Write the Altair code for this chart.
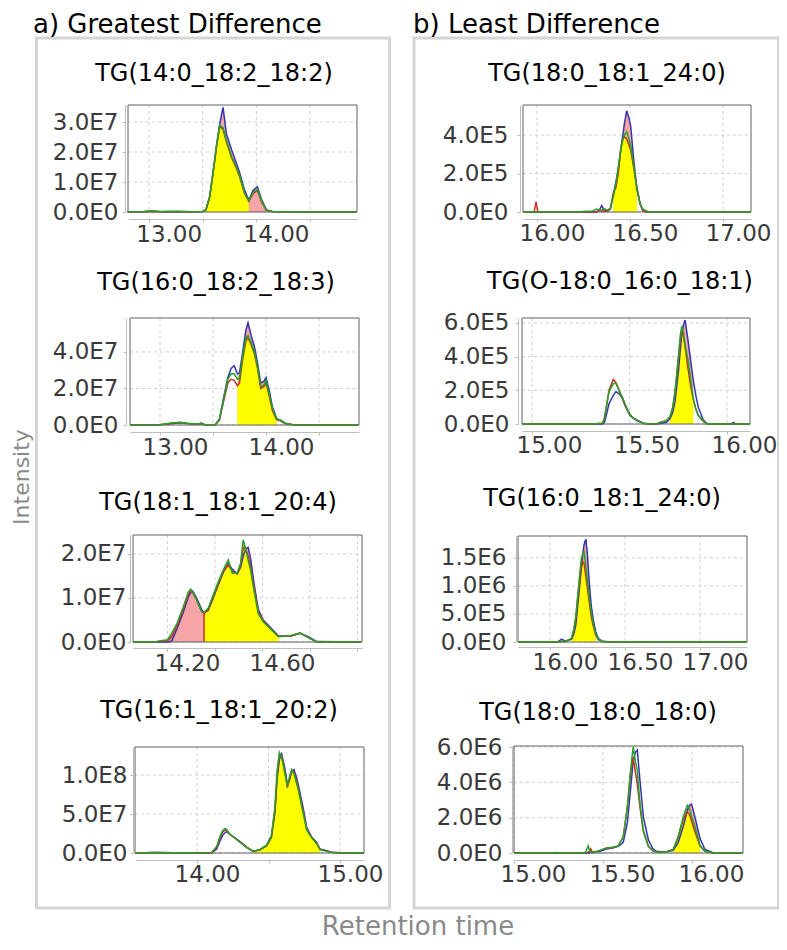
import altair as alt
import pandas as pd

# ---------------- data ----------------
# a) Greatest Difference
A1_T = [12.30, 12.45, 12.53, 12.60, 12.75, 12.90, 13.00, 13.03, 13.065, 13.096, 13.128, 13.159, 13.19, 13.22,
        13.27, 13.315, 13.346, 13.39, 13.43, 13.47, 13.51, 13.55, 13.595, 13.65, 13.75, 13.90, 14.43]
A1_BLUE = [0, 0.01, 0.03, 0.01, 0.02, 0.01, 0.02, 0.07, 0.5, 1.3, 2.2, 2.95, 3.49, 2.62, 2.07, 1.62, 1.29, 0.73,
           0.4, 0.73, 0.84, 0.4, 0.07, 0.02, 0.01, 0, 0]
A1_RED = [0, 0.01, 0.02, 0.01, 0.02, 0.01, 0.02, 0.07, 0.5, 1.28, 2.15, 2.85, 2.75, 2.35, 1.8, 1.45, 1.15, 0.62,
          0.35, 0.62, 0.72, 0.33, 0.05, 0.02, 0.01, 0, 0]
A1_GREEN = [0, 0.02, 0.04, 0.02, 0.02, 0.01, 0.02, 0.08, 0.52, 1.3, 2.18, 2.9, 2.8, 2.4, 1.84, 1.5, 1.2, 0.65,
            0.38, 0.66, 0.76, 0.35, 0.06, 0.02, 0.01, 0, 0]

A2_T = [12.22, 12.50, 12.62, 12.69, 12.76, 12.86, 12.89, 12.92, 13.02, 13.06, 13.10, 13.14, 13.17, 13.20, 13.23,
        13.25, 13.28, 13.31, 13.33, 13.36, 13.39, 13.42, 13.45, 13.48, 13.50, 13.53, 13.56, 13.60, 13.64, 13.68,
        13.75, 14.00, 14.37]
A2_BLUE = [0, 0.01, 0.08, 0.12, 0.08, 0.04, 0.1, 0.02, 0.02, 0.3, 1.5, 2.6, 3.1, 3.25, 2.8, 2.85, 4.0, 5.2, 5.6,
           4.9, 4.3, 3.4, 2.3, 2.4, 2.6, 1.9, 1.0, 0.35, 0.25, 0.1, 0.02, 0, 0]
A2_RED = [0, 0.01, 0.1, 0.14, 0.08, 0.05, 0.08, 0.02, 0.02, 0.25, 1.3, 2.3, 2.5, 2.45, 2.15, 2.3, 3.6, 4.6, 4.8,
          4.4, 3.9, 3.1, 2.0, 2.1, 2.3, 1.6, 0.8, 0.3, 0.22, 0.08, 0.02, 0, 0]
A2_GREEN = [0, 0.02, 0.12, 0.15, 0.1, 0.06, 0.09, 0.03, 0.02, 0.3, 1.4, 2.5, 2.8, 2.8, 2.5, 2.55, 3.8, 4.8, 4.9,
            4.5, 4.0, 3.2, 2.1, 2.2, 2.45, 1.7, 0.9, 0.35, 0.25, 0.1, 0.02, 0, 0]

A3_T = [13.855, 13.95, 13.96, 14.0, 14.018, 14.04, 14.067, 14.088, 14.098, 14.106, 14.123, 14.144, 14.154, 14.172,
        14.193, 14.214, 14.235, 14.256, 14.273, 14.294, 14.308, 14.319, 14.33, 14.34, 14.35, 14.364, 14.382,
        14.403, 14.432, 14.467, 14.516, 14.558, 14.593, 14.628, 14.815]
A3_BLUE = [0, 0, 0, 0, 0.02, 0.3, 0.68, 1.02, 1.12, 1.16, 1.0, 0.74, 0.66, 0.72, 1.0, 1.3, 1.58, 1.78, 1.65, 1.55,
           1.7, 1.95, 2.12, 2.15, 1.9, 1.35, 0.75, 0.5, 0.34, 0.14, 0.13, 0.2, 0.12, 0.01, 0]
A3_RED = [0, 0, 0.01, 0.03, 0.12, 0.36, 0.75, 1.08, 1.15, 1.12, 0.96, 0.7, 0.65, 0.74, 1.03, 1.33, 1.6, 1.75, 1.6,
          1.55, 1.75, 2.15, 2.1, 1.95, 1.7, 1.25, 0.7, 0.48, 0.32, 0.13, 0.13, 0.2, 0.1, 0, 0]
A3_GREEN = [0, 0, 0.02, 0.05, 0.2, 0.42, 0.8, 1.14, 1.2, 1.15, 0.95, 0.69, 0.67, 0.77, 1.07, 1.37, 1.64, 1.86,
            1.56, 1.57, 1.79, 2.32, 2.1, 1.85, 1.64, 1.18, 0.65, 0.46, 0.31, 0.12, 0.14, 0.21, 0.1, 0, 0]

A4_T = [13.566, 13.70, 13.85, 14.00, 14.10, 14.138, 14.16, 14.18, 14.196, 14.207, 14.23, 14.254, 14.30, 14.347,
        14.394, 14.44, 14.487, 14.52, 14.545, 14.56, 14.576, 14.592, 14.615, 14.632, 14.647, 14.662, 14.678,
        14.695, 14.71, 14.74, 14.767, 14.80, 14.837, 14.86, 14.895, 14.94, 15.0, 15.168]
A4_BLUE = [0, 0.05, 0.03, 0, 0, 0.5, 1.5, 2.3, 2.6, 2.73, 2.4, 2.1, 1.47, 0.76, 0.2, 0.42, 0.92, 2.0, 5.2, 9.5,
           12.0, 12.7, 10.8, 8.8, 9.4, 10.4, 10.7, 9.8, 8.6, 6.0, 3.3, 2.1, 1.35, 0.5, 0.35, 0.1, 0.02, 0]
A4_RED = [0, 0.04, 0.02, 0, 0.01, 0.7, 1.9, 2.7, 2.95, 2.85, 2.4, 2.05, 1.45, 0.72, 0.2, 0.43, 0.95, 2.1, 5.5,
          10.0, 12.5, 12.4, 10.3, 8.4, 9.5, 10.5, 10.4, 9.3, 8.2, 5.5, 3.1, 2.05, 1.25, 0.45, 0.32, 0.09, 0.01, 0]
A4_GREEN = [0, 0.05, 0.03, 0, 0.02, 0.84, 2.1, 2.9, 3.16, 3.0, 2.4, 2.05, 1.4, 0.7, 0.2, 0.45, 1.0, 2.2, 5.9,
            10.5, 12.9, 12.3, 10.2, 8.6, 9.8, 10.7, 10.2, 9.0, 8.0, 5.3, 2.95, 2.0, 1.2, 0.45, 0.3, 0.08, 0.01, 0]

# b) Least Difference
B1_T = [15.925, 15.985, 15.995, 16.005, 16.20, 16.30, 16.32, 16.335, 16.348, 16.36, 16.38, 16.395, 16.41, 16.425,
        16.437, 16.45, 16.46, 16.47, 16.482, 16.494, 16.504, 16.52, 16.536, 16.554, 16.57, 16.60, 17.15]
B1_BLUE = [0, 0, 0, 0, 0, 0, 0, 0.1, 0.33, 0.1, 0.05, 0.2, 0.9, 1.6, 2.2, 3.2, 3.9, 4.6, 5.26, 4.9, 4.43, 2.7,
           1.3, 0.45, 0.05, 0, 0]
B1_RED = [0, 0, 0.53, 0, 0, 0, 0.02, 0.05, 0.05, 0.03, 0.05, 0.15, 0.97, 1.3, 2.0, 3.3, 3.74, 3.9, 3.8, 3.5, 3.2,
          2.3, 1.3, 0.4, 0.05, 0, 0]
B1_GREEN = [0, 0, 0, 0, 0, 0.05, 0.15, 0.1, 0.12, 0.18, 0.1, 0.2, 0.8, 1.5, 2.35, 3.2, 3.7, 4.0, 4.17, 3.8, 3.4,
            2.4, 1.2, 0.4, 0.15, 0, 0]

B2_T = [14.949, 15.30, 15.362, 15.372, 15.383, 15.395, 15.417, 15.431, 15.451, 15.465, 15.477, 15.49, 15.503,
        15.52, 15.537, 15.571, 15.60, 15.64, 15.665, 15.69, 15.708, 15.722, 15.733, 15.742, 15.75, 15.76, 15.768,
        15.777, 15.785, 15.80, 15.813, 15.827, 15.84, 15.853, 15.878, 15.90, 16.02, 16.033, 16.045, 16.118]
B2_BLUE = [0, 0, 0, 0.1, 0.6, 1.2, 1.7, 1.92, 1.75, 1.5, 1.1, 0.8, 0.5, 0.35, 0.2, 0.05, 0, 0, 0.05, 0.1, 0.3, 0.7,
           1.3, 2.2, 3.0, 4.3, 5.3, 5.9, 6.17, 4.98, 3.8, 2.6, 1.7, 1.0, 0.25, 0, 0, 0.1, 0, 0]
B2_RED = [0, 0, 0.05, 0.4, 1.1, 2.0, 2.64, 2.45, 1.9, 1.5, 1.15, 0.8, 0.55, 0.35, 0.24, 0.05, 0, 0.02, 0.14, 0.2,
          0.43, 1.0, 1.82, 2.8, 3.8, 4.9, 5.5, 5.2, 4.6, 3.3, 2.3, 1.5, 0.9, 0.5, 0.15, 0, 0, 0, 0, 0]
B2_GREEN = [0, 0, 0.05, 0.3, 1.13, 1.9, 2.4, 2.4, 1.85, 1.55, 1.2, 0.85, 0.55, 0.35, 0.24, 0.05, 0, 0.02, 0.1, 0.2,
            0.43, 1.0, 1.9, 2.9, 3.9, 5.2, 5.8, 5.4, 4.7, 3.8, 2.7, 1.5, 0.9, 0.5, 0.2, 0, 0, 0, 0, 0]

B3_T = [15.787, 16.05, 16.078, 16.10, 16.122, 16.144, 16.16, 16.173, 16.185, 16.196, 16.207, 16.218, 16.227,
        16.235, 16.24, 16.25, 16.262, 16.275, 16.289, 16.305, 16.322, 16.345, 16.40, 17.313]
B3_BLUE = [0, 0, 0.5, 0.15, 0.3, 0.5, 1.5, 3.2, 6.5, 9.5, 12.5, 15.5, 17.3, 18.1, 18.2, 15.5, 10.5, 6.5, 3.9, 1.8,
           0.65, 0.2, 0, 0]
B3_RED = [0, 0, 0.1, 0.1, 0.3, 0.65, 2.2, 4.5, 7.8, 10.5, 13.0, 14.3, 14.0, 12.5, 11.5, 9.5, 7.0, 4.5, 2.8, 1.2,
          0.4, 0.1, 0, 0]
B3_GREEN = [0, 0, 0.1, 0.1, 0.3, 0.7, 2.4, 4.8, 8.3, 11.5, 14.5, 15.8, 16.1, 14.5, 13.2, 11.0, 8.0, 5.3, 3.2, 1.4,
            0.5, 0.1, 0, 0]

B4_T = [15.0, 15.20, 15.23, 15.26, 15.40, 15.417, 15.425, 15.431, 15.44, 15.455, 15.483, 15.52, 15.558, 15.586,
        15.614, 15.637, 15.655, 15.67, 15.682, 15.693, 15.708, 15.727, 15.755, 15.78, 15.80, 15.85, 15.895, 15.923,
        15.951, 15.974, 15.986, 15.998, 16.017, 16.045, 16.073, 16.12, 16.287]
B4_BLUE = [0, 0, 0.02, 0, 0, 0, 0.02, 0.03, 0.03, 0.05, 0.1, 0.22, 0.3, 0.38, 0.6, 1.7, 3.6, 5.2, 5.7, 5.83, 4.1,
           2.04, 0.75, 0.25, 0.1, 0.05, 0.15, 0.6, 1.5, 2.4, 2.7, 2.77, 2.04, 0.83, 0.2, 0.02, 0]
B4_RED = [0, 0, 0.02, 0, 0, 0.05, 0.1, 0.24, 0.05, 0.05, 0.15, 0.28, 0.33, 0.4, 0.92, 2.6, 4.5, 5.42, 4.6, 3.9,
          2.6, 1.2, 0.38, 0.12, 0.06, 0.04, 0.2, 0.92, 1.9, 2.3, 2.2, 1.8, 1.2, 0.4, 0.1, 0, 0]
B4_GREEN = [0, 0, 0.03, 0, 0, 0.41, 0.1, 0.05, 0.05, 0.06, 0.15, 0.28, 0.33, 0.4, 0.92, 2.6, 4.68, 6.03, 5.2,
            4.68, 2.8, 1.3, 0.4, 0.12, 0.06, 0.04, 0.2, 0.92, 2.04, 2.7, 2.5, 2.1, 1.48, 0.45, 0.1, 0, 0]

TITLES = ["TG(14:0_18:2_18:2)", "TG(16:0_18:2_18:3)", "TG(18:1_18:1_20:4)", "TG(16:1_18:1_20:2)",
          "TG(18:0_18:1_24:0)", "TG(O-18:0_16:0_18:1)", "TG(16:0_18:1_24:0)", "TG(18:0_18:0_18:0)"]
UNITS = [1e7, 1e7, 1e7, 1e7, 1e5, 1e5, 1e5, 1e6]
X_DOMAINS = [[12.304, 14.438], [12.217, 14.377], [13.855, 14.819], [13.566, 15.168],
             [15.925, 17.15], [14.949, 16.118], [15.787, 17.313], [15.0, 16.287]]
Y_MAX = [3.567e7, 5.86e7, 2.43e7, 1.36e8, 5.56e5, 6.29e5, 1.89e6, 6.06e6]
X_GRID = [[12.5, 13.0, 13.5, 14.0], [12.5, 13.0, 13.5, 14.0], [14.0, 14.2, 14.4, 14.6, 14.8], [14.0, 14.5, 15.0],
          [16.0, 16.5, 17.0], [15.0, 15.5, 16.0], [16.0, 16.5, 17.0], [15.0, 15.5, 16.0]]
X_LABELS = [[13.0, 14.0], [13.0, 14.0], [14.2, 14.6], [14.0, 15.0],
            [16.0, 16.5, 17.0], [15.0, 15.5, 16.0], [16.0, 16.5, 17.0], [15.0, 15.5, 16.0]]
Y_TICKS = [[0, 1e7, 2e7, 3e7], [0, 2e7, 4e7], [0, 1e7, 2e7], [0, 5e7, 1e8],
           [0, 2e5, 4e5], [0, 2e5, 4e5, 6e5], [0, 5e5, 1e6, 1.5e6], [0, 2e6, 4e6, 6e6]]
YELLOW_WIN = [[13.03, 13.43], [13.23, 13.60], [14.154, 14.467], [14.394, 14.86],
              [16.41, 16.536], [15.708, 15.827], [16.144, 16.305], [15.895, 16.045]]
PINK_WIN = [[13.03, 13.595], [13.23, 13.60], [13.95, 14.467], [14.394, 14.86],
            [16.41, 16.536], [15.708, 15.827], [16.144, 16.305], [15.895, 16.045]]

SERIES = [(A1_T, A1_BLUE, A1_RED, A1_GREEN), (A2_T, A2_BLUE, A2_RED, A2_GREEN),
          (A3_T, A3_BLUE, A3_RED, A3_GREEN), (A4_T, A4_BLUE, A4_RED, A4_GREEN),
          (B1_T, B1_BLUE, B1_RED, B1_GREEN), (B2_T, B2_BLUE, B2_RED, B2_GREEN),
          (B3_T, B3_BLUE, B3_RED, B3_GREEN), (B4_T, B4_BLUE, B4_RED, B4_GREEN)]

# ---------------- layout (page pixels) ----------------
FONT = "DejaVu Sans"
W, H = 771, 934
OX, OY = 8, 8
BOXES = [(128, 357, 105, 212), (130, 359, 318, 425), (133, 362, 535, 642), (135, 364, 747, 853),
         (523, 751, 105, 212), (522, 750, 318, 424), (518, 747, 536, 642), (514, 743, 746, 853)]
XAXIS_Y = [219, 432, 648, 860, 219, 431, 647, 860]
YAXIS_X = [125, 126, 130, 133, 520, 518, 516, 512]
TITLE_POS = [(214, 81), (216, 290), (218, 510), (219, 718), (607, 81), (620, 289), (602, 506), (598, 720)]
LABEL_OFF = [-34, -38, -28, 10, 15, 17, 15, 19]
Y_PAD = [4, 5, 1, 3, 9, 6, 7, 7]
X_PAD = [1, 1, 1, 0, 0, 0, 1, 0]
EDGE = [False, False, True, False, False, False, False, False]

BLUE, RED, GREEN = "#3434b0", "#c4302b", "#27a227"
PINK, YELLOW = "#f5a5a5", "#ffff00"
GRID, FRAME, AXIS, BOXC = "#cfcfcf", "#606060", "#bdbdbd", "#d5d5d5"
TICK_TXT, SIDE_TXT = "#3a3a3a", "#8a8a8a"
LINE_W = 1.5

ONE = pd.DataFrame({"k": [0]})


def panel_layers(i):
    t, b, r, g = SERIES[i]
    u = UNITS[i]
    df = pd.DataFrame({"t": t, "blue": [v * u for v in b], "red": [v * u for v in r],
                       "green": [v * u for v in g]})
    x0, x1, yt, yb = BOXES[i]
    xd = X_DOMAINS[i]
    ym = Y_MAX[i]

    def xs():
        return alt.Scale(domain=xd, range=[x0 - OX, x1 - OX], nice=False, zero=False)

    def ys():
        return alt.Scale(domain=[0, ym], range=[yb - OY, yt - OY], nice=False, zero=False)

    def X(f):
        return alt.X(f, type="quantitative", scale=xs(), axis=None)

    def Y(f):
        return alt.Y(f, type="quantitative", scale=ys(), axis=None)

    labs = ", ".join(repr(v) for v in X_LABELS[i])
    xaxis = alt.Axis(orient="bottom", offset=(XAXIS_Y[i] - OY) - H, values=X_GRID[i],
                     labelExpr=f"indexof([{labs}], datum.value) >= 0 ? format(datum.value, '.2f') : ''",
                     labelOffset=LABEL_OFF[i], labelPadding=X_PAD[i], tickSize=3, grid=False, title=None,
                     labelFlush=False, labelOverlap=False, labelBound=False)
    yaxis = alt.Axis(orient="left", offset=-(YAXIS_X[i] - OX), values=Y_TICKS[i],
                     labelExpr="replace(format(datum.value, '.1e'), 'e+', 'E')",
                     labelPadding=Y_PAD[i], tickSize=3, grid=False, title=None,
                     labelFlush=False, labelOverlap=False, labelBound=False)

    base = alt.Chart(df)
    layers = []
    layers.append(alt.Chart(pd.DataFrame({"g": X_GRID[i]})).mark_rule(
        color=GRID, strokeDash=[3, 3], strokeWidth=1).encode(
        x=X("g"), y=alt.value(yt - OY), y2=alt.value(yb - OY)))
    layers.append(alt.Chart(pd.DataFrame({"g": Y_TICKS[i]})).mark_rule(
        color=GRID, strokeDash=[3, 3], strokeWidth=1).encode(
        y=Y("g"), x=alt.value(x0 - OX), x2=alt.value(x1 - OX)))
    plo, phi = PINK_WIN[i]
    layers.append(base.transform_filter(f"datum.t >= {plo} && datum.t <= {phi}").transform_calculate(
        top="max(datum.blue, datum.red, datum.green)").mark_area(color=PINK).encode(x=X("t"), y=Y("top")))
    ylo, yhi = YELLOW_WIN[i]
    layers.append(base.transform_filter(f"datum.t >= {ylo} && datum.t <= {yhi}").mark_area(
        color=YELLOW).encode(x=X("t"), y=Y("red")))
    layers.append(alt.Chart(ONE).mark_rect(fillOpacity=0, stroke=FRAME, strokeWidth=1).encode(
        x=alt.value(x0 - OX), x2=alt.value(x1 - OX), y=alt.value(yt - OY), y2=alt.value(yb - OY)))
    if EDGE[i]:
        layers.append(base.transform_filter(f"datum.t == {ylo}").mark_rule(color=RED, strokeWidth=1.5).encode(
            x=X("t"), y=Y("red"), y2=alt.value(yb - OY)))
    layers.append(base.mark_line(color=BLUE, strokeWidth=LINE_W).encode(x=X("t"), y=Y("blue")))
    layers.append(base.mark_line(color=RED, strokeWidth=LINE_W).encode(x=X("t"), y=Y("red")))
    layers.append(base.mark_line(color=GREEN, strokeWidth=LINE_W).encode(
        x=alt.X("t", type="quantitative", scale=xs(), axis=xaxis),
        y=alt.Y("green", type="quantitative", scale=ys(), axis=yaxis)))
    tx, ty = TITLE_POS[i]
    layers.append(alt.Chart(ONE).mark_text(text=TITLES[i], font=FONT, fontSize=24, color="black",
                                           align="center", baseline="alphabetic").encode(
        x=alt.value(tx - OX), y=alt.value(ty - OY)))
    return layers


def box(x0, x1, y0, y1):
    return alt.Chart(ONE).mark_rect(fillOpacity=0, stroke=BOXC, strokeWidth=3).encode(
        x=alt.value(x0 - OX), x2=alt.value(x1 - OX), y=alt.value(y0 - OY), y2=alt.value(y1 - OY))


def label(text, x, y, size, color, align="left", angle=0):
    return alt.Chart(ONE).mark_text(text=text, font=FONT, fontSize=size, color=color, align=align,
                                    baseline="alphabetic", angle=angle).encode(
        x=alt.value(x - OX), y=alt.value(y - OY))


all_layers = [
    box(36.5, 389.5, 38, 908),
    box(414, 778.5, 38, 908),
    label("a) Greatest Difference", 33, 33, 26, "black"),
    label("b) Least Difference", 413, 33, 26, "black"),
    label("Intensity", 29, 477, 22, SIDE_TXT, align="center", angle=270),
    label("Retention time", 418, 935, 26, SIDE_TXT, align="center"),
]
for i in range(8):
    all_layers.extend(panel_layers(i))

chart = alt.layer(*all_layers).resolve_scale(x="independent", y="independent").properties(
    width=W, height=H, padding=0, autosize=alt.AutoSizeParams(type="none")
).configure_view(strokeWidth=0).configure_axis(
    labelFont=FONT, labelFontSize=23, labelColor=TICK_TXT, domainColor=AXIS, tickColor=AXIS,
    domainWidth=1, tickWidth=1)

chart.save("out.html", embed_options={"renderer": "svg", "actions": False})
